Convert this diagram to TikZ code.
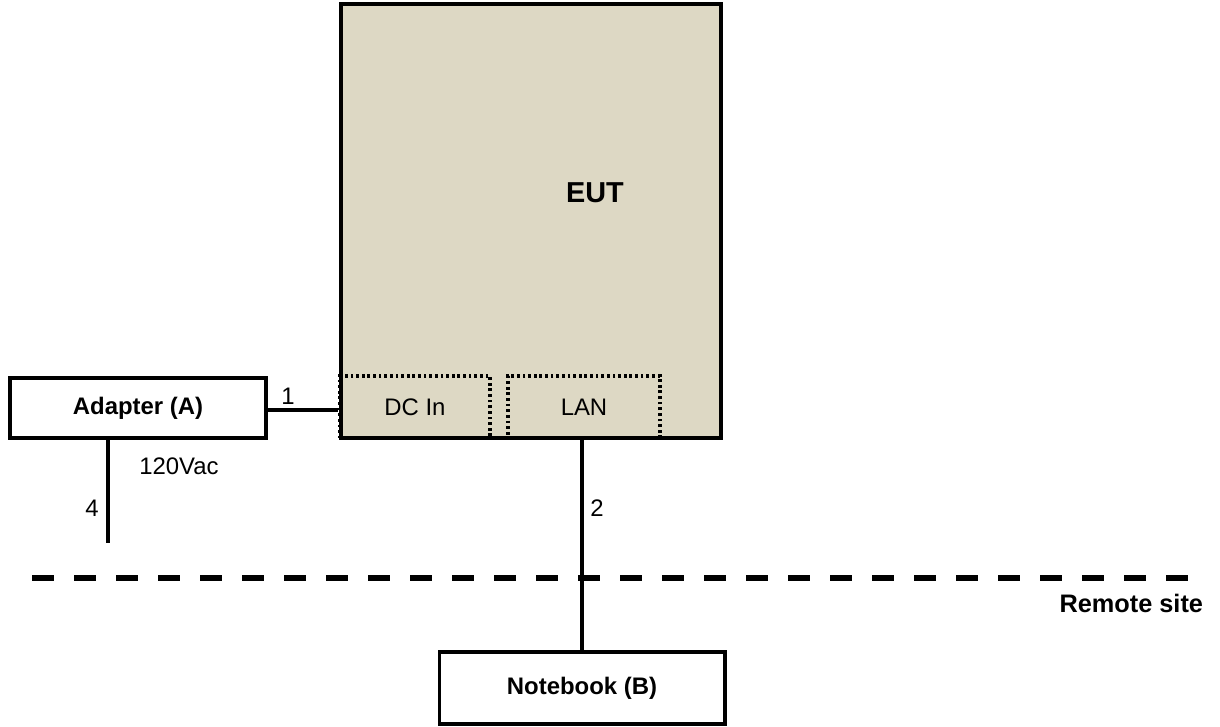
\documentclass[tikz,border=0pt]{standalone}
\usepackage{fontspec}
\setmainfont{Liberation Sans}
\usepackage{tikz}
\usetikzlibrary{positioning,calc}
\usepackage{xcolor}
\definecolor{eutbeige}{RGB}{221,216,196}
\tikzset{
  unitbox/.style={draw=black,line width=2.8pt,minimum width=6.4cm,minimum height=1.5cm,
    align=center,inner sep=0pt,font=\fontsize{17}{20}\selectfont\bfseries,fill=white},
  eutbox/.style={draw=black,line width=2.8pt,fill=eutbeige,minimum width=9.5cm,
    minimum height=10.85cm,inner sep=0pt},
  portbox/.style={draw=black,line width=2.4pt,dash pattern=on 2pt off 2pt,minimum height=1.55cm,
    inner sep=0pt,font=\fontsize{17}{20}\selectfont},
  cable/.style={line width=2.4pt,draw=black},
  sitesplit/.style={line width=4.8pt,draw=black,dash pattern=on 0.55cm off 0.5cm},
  cablenote/.style={font=\fontsize{17}{20}\selectfont,inner sep=1pt}
}
\begin{document}
\begin{tikzpicture}[x=0.025cm,y=-0.025cm]
  \useasboundingbox (0,0) rectangle (1220,726);
  \clip (0,0) rectangle (1220,726);

  \node[eutbox] (eut) at (531,221) {};
  \node[font=\fontsize{20.5}{24}\selectfont\bfseries] (euttext) at (595,193) {EUT};
  \node[portbox,minimum width=3.75cm] (dcin) at (415,407) {DC In};
  \node[portbox,minimum width=3.8cm] (lan) at (584,407) {LAN};

  \node[unitbox] (adapter) at (138,408) {Adapter (A)};
  \node[unitbox,minimum width=7.125cm,minimum height=1.78cm] (notebook) at (582,688) {Notebook (B)};

  \coordinate (acplug) at (108,543);
  \coordinate (siteL) at (32,578);
  \coordinate (siteR) at (1195,578);

  \draw[cable] (adapter.east |- 0,410) -- (dcin.west |- 0,410);
  \draw[cable] (adapter.south -| acplug) -- (acplug);
  \draw[cable] (lan.south -| 582,0) -- (notebook.north -| 582,0);
  \draw[sitesplit] (siteL) -- (siteR);

  \node[cablenote] (n1) at (288,396) {1};
  \node[cablenote] (n4) at (92,508) {4};
  \node[cablenote] (ac) at (179,466) {120Vac};
  \node[cablenote] (n2) at (597,508) {2};
  \node[font=\fontsize{18}{21}\selectfont\bfseries,anchor=east] (remote) at (1208,603) {Remote site};
\end{tikzpicture}
\end{document}
